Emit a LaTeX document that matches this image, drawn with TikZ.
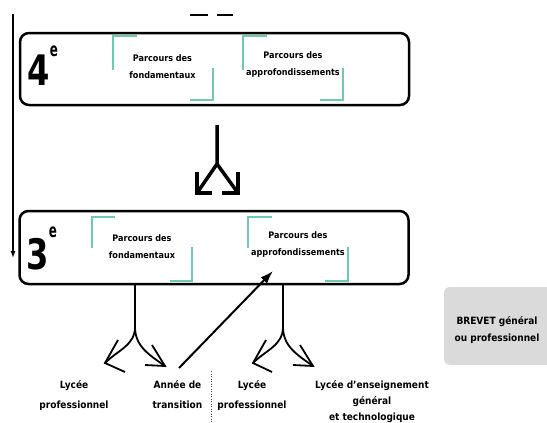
\documentclass[tikz,border=0pt]{standalone}
\usepackage{fontspec}
\setmainfont{DejaVu Sans Condensed}
\usetikzlibrary{arrows.meta}
\definecolor{tealc}{RGB}{112,200,178}
\definecolor{brevetc}{RGB}{218,218,218}
\tikzset{
  levelbox/.style={draw, line width=2.5pt, rounded corners=9pt, minimum width=389pt, minimum height=72pt, inner sep=0pt},
  tealbr/.style={draw=tealc, line width=1.6pt},
  lbl/.style={font=\bfseries\fontsize{9}{17}\selectfont, align=center, inner sep=0pt},
  blbl/.style={font=\bfseries\fontsize{10}{20}\selectfont, align=center, inner sep=0pt},
  digit/.style={font=\bfseries\fontsize{42}{42}\selectfont, inner sep=0pt, xscale=0.85},
  supe/.style={font=\bfseries\fontsize{19}{19}\selectfont, inner sep=0pt, xscale=0.7},
  bigarrow/.style={line width=3.5pt, line join=miter},
  thinarrow/.style={line width=1.8pt, line join=miter}
}
\begin{document}
\begin{tikzpicture}[x=1pt,y=1pt]
\useasboundingbox (0,0) rectangle (547,-423);
\fill[white] (0,0) rectangle (547,-423);

% level boxes
\node[levelbox] (b4) at (214.5,-69) {};
\node[levelbox, minimum height=73pt] (b3) at (214,-247.5) {};

\node[digit] (n4) at (39,-70) {4};
\node[supe] (e4) at (54,-51) {e};
\node[digit] (n3) at (38,-254) {3};
\node[supe] (e3) at (53,-232) {e};

% teal brackets 4e
\draw[tealbr] (137,-36) -- (113,-36) -- (113,-70);
\draw[tealbr] (213,-68) -- (213,-100) -- (190,-100);
\draw[tealbr] (267,-36) -- (243,-36) -- (243,-70);
\draw[tealbr] (343,-68) -- (343,-100) -- (320,-100);
% teal brackets 3e
\draw[tealbr] (115,-217) -- (92,-217) -- (92,-248);
\draw[tealbr] (192,-247) -- (192,-281) -- (170,-281);
\draw[tealbr] (272,-217) -- (248,-217) -- (248,-248);
\draw[tealbr] (348,-247) -- (348,-281) -- (325,-281);

\node[lbl] (p41) at (162.5,-67) {Parcours des\\fondamentaux};
\node[lbl] (p42) at (293,-64.5) {Parcours des\\approfondissements};
\node[lbl] (p31) at (142,-247) {Parcours des\\fondamentaux};
\node[lbl] (p32) at (298,-244.5) {Parcours des\\approfondissements};

% top fragments
\draw[line width=2.2pt] (190,-15) -- (208,-15);
\draw[line width=2.2pt] (217,-15) -- (233,-15);

% left long arrow
\coordinate (ltop) at (13,-14);
\coordinate (lend) at (13,-258);
\draw[line width=1.3pt, -{Latex[length=7pt,width=5pt]}] (ltop) -- (lend);

% middle split arrow
\coordinate (ms) at (217,-125);
\coordinate (mj) at (217,-164);
\coordinate (ml) at (197,-193);
\coordinate (mr) at (238,-193);
\draw[bigarrow] (ms) -- (mj) -- (ml);
\draw[bigarrow] (mj) -- (mr);
\draw[bigarrow] (197,-172) -- (ml) -- (212,-193);
\draw[bigarrow] (238,-172) -- (mr) -- (222,-193);

% lower left split
\coordinate (ls) at (135,-284);
\coordinate (lj) at (135,-327);
\coordinate (lL) at (105,-363);
\coordinate (lR) at (165,-366);
\draw[thinarrow] (ls) -- (lj) to[out=-90,in=45] (lL);
\draw[thinarrow] (lj) to[out=-90,in=145] (lR);
\draw[thinarrow] (118,-340) -- (lL) -- (125,-372);
\draw[thinarrow] (152,-345) -- (lR) -- (145,-365);

% lower right split
\coordinate (rs) at (283,-284);
\coordinate (rj) at (283,-327);
\coordinate (rL) at (253,-363);
\coordinate (rR) at (313,-366);
\draw[thinarrow] (rs) -- (rj) to[out=-90,in=45] (rL);
\draw[thinarrow] (rj) to[out=-90,in=145] (rR);
\draw[thinarrow] (266,-340) -- (rL) -- (272,-372);
\draw[thinarrow] (300,-345) -- (rR) -- (293,-365);

% bottom labels
\node[blbl] (lp1) at (74,-395.5) {Lycée\\professionnel};
\node[blbl] (ann) at (177.5,-394.5) {Année de\\transition};
\node[blbl] (lp2) at (252,-396) {Lycée\\professionnel};
\node[blbl, font=\bfseries\fontsize{10}{16}\selectfont] (leg) at (372,-402) {Lycée d'enseignement\\général\\et technologique};

% diagonal arrow
\coordinate (dstart) at (179,-368);
\coordinate (dend) at (273,-271);
\draw[line width=2pt, -{Latex[length=13pt,width=9pt]}] (dstart) -- (dend);

% dotted separator
\coordinate (dtop) at (211,-371);
\coordinate (dbot) at (211,-423);
\draw[line width=0.9pt, dash pattern=on 1pt off 1.5pt, black!70] (dtop) -- (dbot);

% brevet box
\node[fill=brevetc, rounded corners=6pt, minimum width=116pt, minimum height=78pt, inner sep=0pt] (brev) at (502,-326) {};
\node[blbl, font=\bfseries\fontsize{10}{17}\selectfont] (brevt) at (497,-330) {BREVET général\\ou professionnel};
\end{tikzpicture}
\end{document}
